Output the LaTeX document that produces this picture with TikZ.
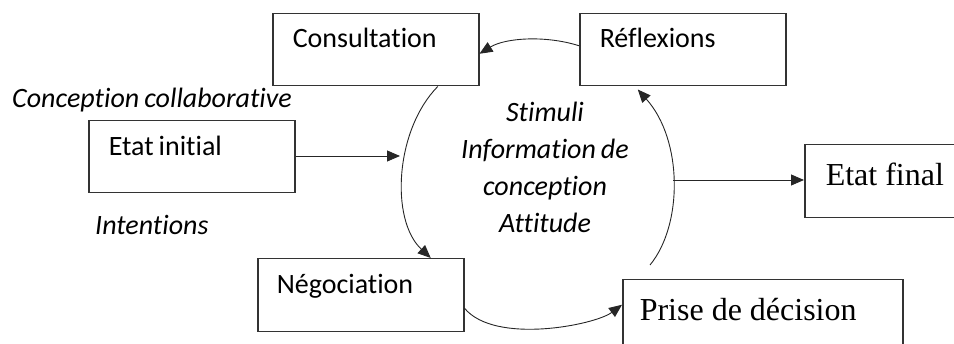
\documentclass[tikz,border=0pt]{standalone}
\usepackage{fontspec}
\setmainfont{Carlito}[Ligatures=NoCommon, WordSpace=0.8]
\newfontfamily\serifface{Liberation Serif}
\usetikzlibrary{arrows.meta,calc}

% fixed-width line with the text set flush left
\newcommand{\boxline}[2]{\makebox[#1][l]{#2}}

\tikzset{
  box/.style={draw=black!80, line width=1.5pt, anchor=north west, inner ysep=0pt,
    font=\fontsize{28}{34}\selectfont},
  serifbox/.style={box, font=\serifface\fontsize{32}{38}\selectfont},
  flow/.style={draw=black!85, line width=0.9pt, -{Triangle[length=13pt,width=11pt]}},
  note/.style={anchor=base west, inner sep=0pt, font=\itshape\fontsize{28}{34}\selectfont},
}

\begin{document}
\begin{tikzpicture}[x=1pt, y=-1pt]
  \useasboundingbox (0,0) rectangle (954,344);
  \clip (0,0) rectangle (954,344);

  % process stages
  \node[box, inner xsep=20pt, text height=34pt, text depth=38pt]
    (consult) at (272,13) {\boxline{166pt}{Consultation}};
  \node[box, inner xsep=20pt, text height=34pt, text depth=38pt]
    (refl) at (579,13) {\boxline{166pt}{Réflexions}};
  \node[box, inner xsep=20pt, text height=35pt, text depth=37pt]
    (init) at (88,120) {\boxline{166pt}{Etat initial}};
  \node[box, inner xsep=19pt, text height=35pt, text depth=38pt]
    (neg) at (257,258) {\boxline{168pt}{Négociation}};
  \node[serifbox, inner xsep=17pt, text height=41pt, text depth=39pt]
    (dec) at (622,279) {\boxline{246pt}{Prise de décision}};
  \node[serifbox, inner xsep=21pt, text height=41pt, text depth=32pt]
    (final) at (804,144) {\boxline{164pt}{Etat final}};

  % side notes and the centre of the cycle
  \node[note] (collab) at (12,108) {Conception collaborative};
  \node[note] (intent) at (95,235) {Intentions};
  \node[anchor=base, inner sep=0pt, align=center, font=\itshape\fontsize{28}{37}\selectfont]
    (centre) at (545,233) {Stimuli\\Information de\\conception\\Attitude};

  % free ends on the cycle
  \coordinate (inlet) at (400,156);
  \coordinate (outlet) at (673,180);
  \coordinate (rise) at (650,265);

  % the cycle
  \draw[flow] ([yshift=4pt]refl.west) .. controls (545,35) and (505,38) .. ([yshift=-4pt]consult.east);
  \draw[flow] ([xshift=62pt]consult.south) .. controls (395,130) and (390,220) .. ([xshift=70pt]neg.north);
  \draw[flow] ([yshift=-13pt]neg.east) .. controls (495,345) and (595,325) .. ([yshift=15pt]dec.west);
  \draw[flow] (rise) .. controls (683,225) and (683,140) .. ([xshift=-45pt,yshift=-3pt]refl.south);

  % entry and exit
  \draw[flow] (init.east |- inlet) -- (inlet);
  \draw[flow] (outlet) -- (final.west |- outlet);
\end{tikzpicture}
\end{document}
